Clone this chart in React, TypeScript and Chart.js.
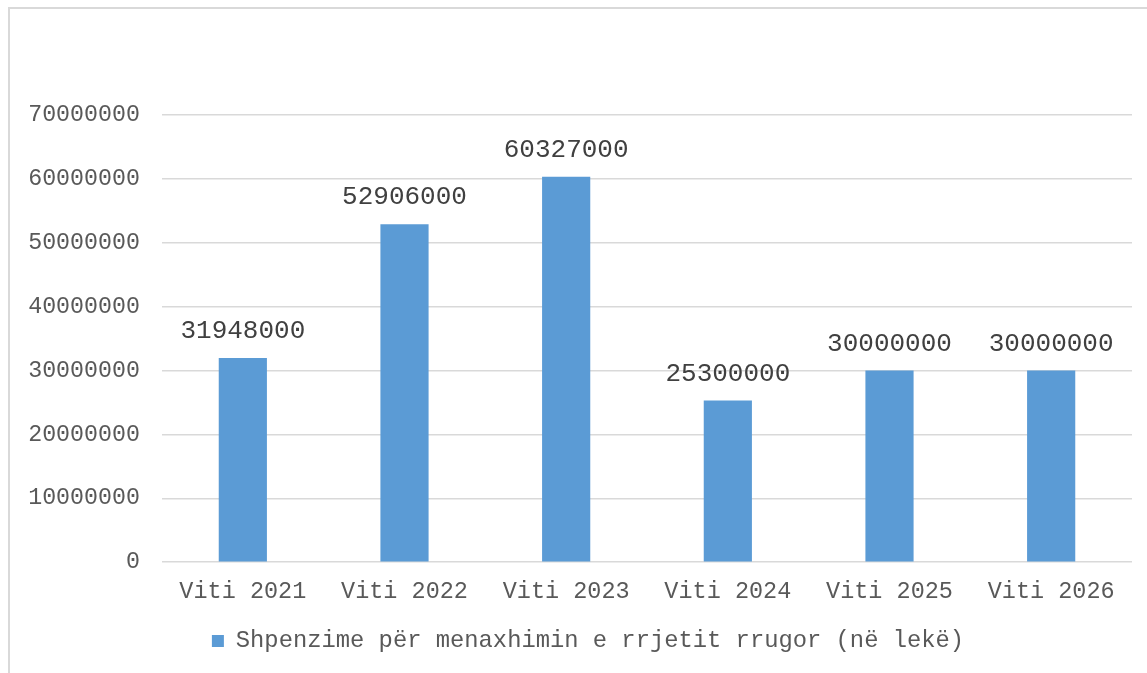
import React, { useEffect, useRef } from "react";
import { Chart, registerables } from "chart.js";

Chart.register(...registerables);

const categories = ["Viti 2021", "Viti 2022", "Viti 2023", "Viti 2024", "Viti 2025", "Viti 2026"];
const seriesLabel = "Shpenzime për menaxhimin e rrjetit rrugor (në lekë)";
const values = [31948000, 52906000, 60327000, 25300000, 30000000, 30000000];
const yTicks = [0, 10000000, 20000000, 30000000, 40000000, 50000000, 60000000, 70000000];

const FONT = "'Liberation Mono', 'Courier New', monospace";

const dataLabelPlugin = {
  id: "dataLabels",
  afterDatasetsDraw(chart: any) {
    const ctx = chart.ctx;
    const meta = chart.getDatasetMeta(0);
    ctx.save();
    ctx.font = `26px ${FONT}`;
    ctx.fillStyle = "#404040";
    ctx.textAlign = "center";
    ctx.textBaseline = "alphabetic";
    meta.data.forEach((bar: any, i: number) => {
      ctx.fillText(String(values[i]), bar.x, bar.y - 20);
    });
    ctx.restore();
  },
};

const legendShiftPlugin = {
  id: "legendShift",
  afterLayout(chart: any) {
    if (chart.legend) {
      chart.legend.left += 22;
      chart.legend.right += 22;
    }
  },
};

export default function App() {
  const ref = useRef<HTMLCanvasElement>(null);
  useEffect(() => {
    if (!ref.current) return;
    const chart = new Chart(ref.current, {
      type: "bar",
      data: {
        labels: categories,
        datasets: [
          {
            label: seriesLabel,
            data: values,
            backgroundColor: "#5b9bd5",
            borderWidth: 0,
            barPercentage: 0.298,
            categoryPercentage: 1,
          },
        ],
      },
      options: {
        responsive: false,
        animation: false,
        layout: { padding: { top: 115, right: 15, bottom: 10, left: 0 } },
        plugins: {
          tooltip: { enabled: false },
          legend: {
            position: "bottom",
            labels: {
              font: { family: FONT, size: 23.8 },
              color: "#595959",
              boxWidth: 12,
              boxHeight: 12,
              padding: 10,
            },
          },
        },
        scales: {
          x: {
            grid: { display: false },
            border: { display: false },
            ticks: {
              font: { family: FONT, size: 23.5 },
              color: "#595959",
              padding: 7,
              maxRotation: 0,
            },
            afterFit: (s: any) => {
              s.height = 57;
            },
          },
          y: {
            min: 0,
            max: 70000000,
            afterBuildTicks: (s: any) => {
              s.ticks = yTicks.map((v) => ({ value: v }));
            },
            grid: { color: "#d9d9d9", lineWidth: 1.5, drawTicks: false },
            border: { display: false },
            ticks: {
              font: { family: FONT, size: 23.3 },
              color: "#595959",
              padding: 22,
              callback: (v: any) => String(v),
            },
            afterFit: (s: any) => {
              s.width = 162;
            },
          },
        },
      },
      plugins: [dataLabelPlugin, legendShiftPlugin],
    });
    return () => chart.destroy();
  }, []);
  return (
    <>
      <div
        style={{
          position: "fixed",
          left: 8,
          top: 7,
          width: 1200,
          height: 720,
          border: "2px solid #d9d9d9",
          boxSizing: "border-box",
        }}
      />
      <canvas
        ref={ref}
        width={1147}
        height={673}
        style={{ position: "fixed", left: 0, top: 0, width: 1147, height: 673 }}
      />
    </>
  );
}
